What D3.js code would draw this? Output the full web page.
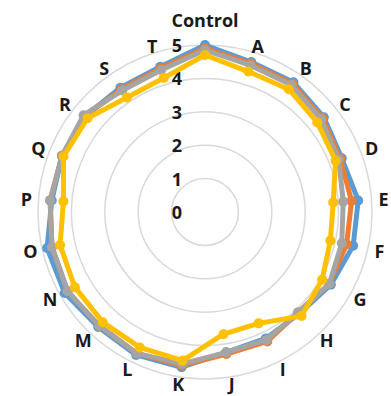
<!DOCTYPE html>
<html>
<head>
<meta charset="utf-8">
<script src="https://cdn.jsdelivr.net/npm/d3@7"></script>
<style>
  body { margin: 0; background: #fff; }
  text { font-family: "Open Sans", "DejaVu Sans", sans-serif; font-weight: 700; fill: #1a1a1a; }
</style>
</head>
<body>
<div id="chart"></div>
<script>
// categories round the radar, clockwise from the top
var categories = ["Control", "A", "B", "C", "D", "E", "F", "G", "H", "I", "J",
                  "K", "L", "M", "N", "O", "P", "Q", "R", "S", "T"];
var ticks = [0, 1, 2, 3, 4, 5];

// series values
var blue   = [5.0, 4.7, 4.7, 4.55, 4.4, 4.6, 4.55, 4.35, 4.15, 4.2, 4.25, 4.7, 4.75, 4.7, 4.85, 4.85, 4.6, 4.6, 4.6, 4.5, 4.55];
var orange = [4.9, 4.65, 4.65, 4.5, 4.35, 4.4, 4.35, 4.3, 4.1, 4.3, 4.3, 4.65, 4.7, 4.65, 4.75, 4.7, 4.65, 4.6, 4.6, 4.45, 4.5];
var gray   = [4.85, 4.6, 4.6, 4.45, 4.3, 4.15, 4.2, 4.3, 4.1, 4.25, 4.25, 4.6, 4.7, 4.65, 4.75, 4.7, 4.65, 4.6, 4.65, 4.4, 4.45];
var yellow = [4.7, 4.4, 4.45, 4.3, 4.2, 3.85, 3.85, 4.05, 4.25, 3.7, 3.7, 4.5, 4.5, 4.5, 4.5, 4.45, 4.25, 4.55, 4.5, 4.15, 4.2];

var series = [
  {values: blue,   color: "#5b9bd5"},
  {values: orange, color: "#ed7d31"},
  {values: gray,   color: "#a5a5a5"},
  {values: yellow, color: "#ffc000"}
];

var width = 391, height = 396;
var cx = 205, cy = 212, radius = 167;

var svg = d3.select("#chart").append("svg")
  .attr("width", width)
  .attr("height", height);

var g = svg.append("g")
  .attr("transform", "translate(" + cx + "," + cy + ")");

var rScale = d3.scaleLinear().domain([0, 5]).range([0, radius]);
var angle = d3.scaleLinear().domain([0, categories.length]).range([0, 2 * Math.PI]);

// grid rings
g.selectAll(".ring")
  .data(ticks.slice(1))
  .enter().append("circle")
  .attr("class", "ring")
  .attr("r", function(d) { return rScale(d); })
  .attr("fill", "none")
  .attr("stroke", "#d9d9d9")
  .attr("stroke-width", 1.5);

// value labels on the vertical axis
g.selectAll(".tick")
  .data(ticks)
  .enter().append("text")
  .attr("class", "tick")
  .attr("x", -23)
  .attr("y", function(d) { return -rScale(d); })
  .attr("text-anchor", "end")
  .attr("dominant-baseline", "central")
  .style("font-size", "18px")
  .text(function(d) { return d; });

// series lines + markers
var line = d3.lineRadial()
  .angle(function(d, i) { return angle(i); })
  .radius(function(d) { return rScale(d); })
  .curve(d3.curveLinearClosed);

series.forEach(function(s) {
  g.append("path")
    .datum(s.values)
    .attr("d", line)
    .attr("fill", "none")
    .attr("stroke", s.color)
    .attr("stroke-width", 5)
    .attr("stroke-linejoin", "round");

  g.selectAll(null)
    .data(s.values)
    .enter().append("circle")
    .attr("cx", function(d, i) { return rScale(d) * Math.sin(angle(i)); })
    .attr("cy", function(d, i) { return -rScale(d) * Math.cos(angle(i)); })
    .attr("r", 5)
    .attr("fill", s.color);
});

// category labels, a bit further out sideways than up/down
var labelRx = 179, labelRy = 174;
g.selectAll(".cat")
  .data(categories)
  .enter().append("text")
  .attr("class", "cat")
  .attr("x", function(d, i) { return labelRx * Math.sin(angle(i)); })
  .attr("y", function(d, i) { return -labelRy * Math.cos(angle(i)) - (i === 0 ? 18 : 0); })
  .attr("text-anchor", "middle")
  .attr("dominant-baseline", "central")
  .style("font-size", "18px")
  .text(function(d) { return d; });
</script>
</body>
</html>
